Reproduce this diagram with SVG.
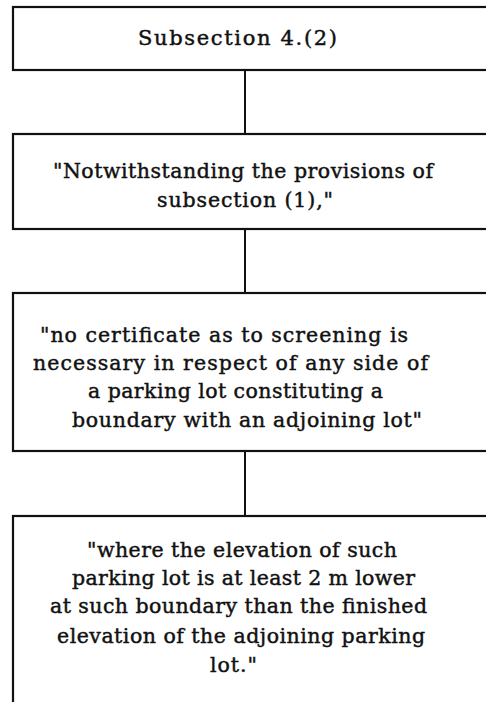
<svg xmlns="http://www.w3.org/2000/svg" width="486" height="702" viewBox="0 0 486 702">
<style>
.box{fill:#fff;stroke:#111;stroke-width:2.2}
.conn{stroke:#111;stroke-width:2;fill:none}
text{font-family:"DejaVu Serif","Liberation Serif",serif;font-size:20.5px;fill:#111;stroke:#111;stroke-width:0.45}
.title{font-size:21px}
</style>
<rect x="0" y="0" width="486" height="702" fill="#fff"/>
<g id="connectors">
<line class="conn" x1="245" y1="70" x2="245" y2="134"/>
<line class="conn" x1="245" y1="229" x2="245" y2="293"/>
<line class="conn" x1="245" y1="451" x2="245" y2="516"/>
</g>
<g id="node1">
<rect class="box" x="13" y="7" width="500" height="63"/>
<text class="title" x="138" y="45" textLength="199">Subsection 4.(2)</text>
</g>
<g id="node2">
<rect class="box" x="13" y="134" width="500" height="95"/>
<text x="53" y="178" textLength="380">"Notwithstanding the provisions of</text>
<text x="157" y="207" textLength="176">subsection (1),"</text>
</g>
<g id="node3">
<rect class="box" x="13" y="293" width="500" height="158"/>
<text x="40" y="342" textLength="368">"no certificate as to screening is</text>
<text x="33" y="370" textLength="395">necessary in respect of any side of</text>
<text x="88" y="398" textLength="295">a parking lot constituting a</text>
<text x="72" y="427" textLength="350">boundary with an adjoining lot"</text>
</g>
<g id="node4">
<rect class="box" x="13" y="516" width="500" height="200"/>
<text x="87" y="557" textLength="310">"where the elevation of such</text>
<text x="72" y="585" textLength="343">parking lot is at least 2 m lower</text>
<text x="50" y="613" textLength="377">at such boundary than the finished</text>
<text x="57" y="643" textLength="368">elevation of the adjoining parking</text>
<text x="210" y="672" textLength="47">lot."</text>
</g>
</svg>
